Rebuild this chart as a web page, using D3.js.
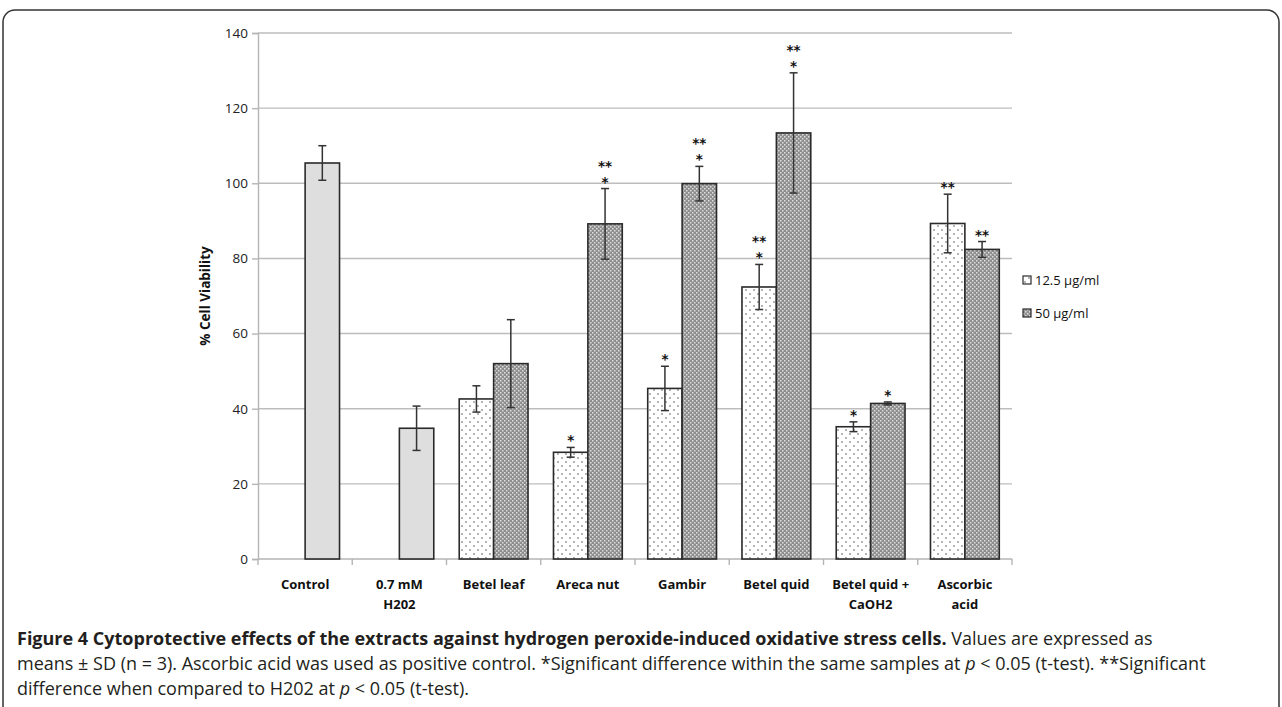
<script src="https://cdn.jsdelivr.net/npm/d3@7"></script>
<style>
  body { margin: 0; background: #fff; }
  text { font-family: "Open Sans", sans-serif; }
</style>
<svg id="main_canvas" width="1282" height="707"></svg>
<script>
    // cell viability per extract, two concentrations (Control / H2O2 only have one bar)
    const categories = [
        ["Control"], ["0.7 mM", "H202"], ["Betel leaf"], ["Areca nut"],
        ["Gambir"], ["Betel quid"], ["Betel quid +", "CaOH2"], ["Ascorbic", "acid"]
    ];
    const seriesNames = ["12.5 µg/ml", "50 µg/ml"];
    const low = [null, null, 42.6, 28.4, 45.4, 72.4, 35.2, 89.3];
    const lowSD = [null, null, 3.5, 1.3, 5.9, 6.0, 1.3, 7.8];
    const high = [105.4, 34.8, 52.0, 89.2, 99.9, 113.4, 41.4, 82.4];
    const highSD = [4.6, 5.9, 11.7, 9.4, 4.6, 16.0, 0.4, 2.1];
    const lowStars = [[], [], [], ["*"], ["*"], ["**", "*"], ["*"], ["**"]];
    const highStars = [[], [], [], ["**", "*"], ["**", "*"], ["**", "*"], ["*"], ["**"]];
    const controlGroups = [0, 1]; // plain grey bars
    const yTicks = [0, 20, 40, 60, 80, 100, 120, 140];

    const margins = { left: 258, right: 270, top: 33, bottom: 148 };
    const W = 1282, H = 707;

    const svg = d3.select("#main_canvas");

    // outer figure frame
    svg.append("rect")
        .attr("x", 3).attr("y", 10)
        .attr("width", W - 6).attr("height", H + 40)
        .attr("rx", 12)
        .attr("fill", "none").attr("stroke", "#333").attr("stroke-width", 1.5);

    const defs = svg.append("defs");
    const dots = defs.append("pattern").attr("id", "dots")
        .attr("patternUnits", "userSpaceOnUse").attr("width", 8).attr("height", 8);
    dots.append("rect").attr("width", 8).attr("height", 8).attr("fill", "#fff");
    dots.append("circle").attr("cx", 2).attr("cy", 2).attr("r", 0.75).attr("fill", "#444");
    dots.append("circle").attr("cx", 6).attr("cy", 6).attr("r", 0.75).attr("fill", "#444");

    const checker = defs.append("pattern").attr("id", "checker")
        .attr("patternUnits", "userSpaceOnUse").attr("width", 4).attr("height", 4);
    checker.append("rect").attr("width", 4).attr("height", 4).attr("fill", "#8e8e8e");
    checker.append("rect").attr("x", 0).attr("y", 0).attr("width", 1.5).attr("height", 1.5).attr("fill", "#dedede");
    checker.append("rect").attr("x", 2).attr("y", 2).attr("width", 1.5).attr("height", 1.5).attr("fill", "#dedede");

    const x = d3.scaleBand()
        .domain(d3.range(categories.length))
        .range([margins.left, W - margins.right])
        .paddingInner(0).paddingOuter(0);

    const inner = d3.scaleBand()
        .domain(seriesNames)
        .range([0, x.bandwidth()])
        .paddingInner(0).paddingOuter(0.37);

    const y = d3.scaleLinear()
        .domain([0, 140])
        .range([H - margins.bottom, margins.top]);

    // gridlines
    svg.append("g")
        .selectAll("line")
        .data(yTicks.slice(1))
        .join("line")
        .attr("x1", margins.left).attr("x2", W - margins.right)
        .attr("y1", d => y(d)).attr("y2", d => y(d))
        .attr("stroke", "#bdbdbd").attr("stroke-width", 1.4);

    // y axis
    svg.append("g")
        .attr("transform", `translate(${margins.left},0)`)
        .call(d3.axisLeft(y).tickValues(yTicks).tickSize(6).tickPadding(4))
        .call(g => g.select(".domain").attr("stroke", "#b5b5b5").attr("stroke-width", 1.4))
        .call(g => g.selectAll(".tick line").attr("stroke", "#b5b5b5").attr("stroke-width", 1.4))
        .call(g => g.selectAll(".tick text")
            .attr("font-size", 13.5).attr("fill", "#222")
            .style("font-family", "'Open Sans', sans-serif"));

    // x axis (ticks at category boundaries)
    const boundaries = d3.range(categories.length + 1).map(i => margins.left + i * x.bandwidth());
    const xAxisG = svg.append("g").attr("transform", `translate(0,${y(0)})`);
    xAxisG.append("line")
        .attr("x1", margins.left).attr("x2", W - margins.right)
        .attr("stroke", "#b5b5b5").attr("stroke-width", 1.4);
    xAxisG.selectAll(".btick")
        .data(boundaries)
        .join("line")
        .attr("class", "btick")
        .attr("x1", d => d).attr("x2", d => d)
        .attr("y1", 0).attr("y2", 6)
        .attr("stroke", "#b5b5b5").attr("stroke-width", 1.4);
    xAxisG.selectAll(".clabel")
        .data(categories)
        .join("text")
        .attr("class", "clabel")
        .attr("text-anchor", "middle")
        .attr("font-size", 13).attr("font-weight", "bold").attr("fill", "#111")
        .attr("transform", (d, i) => `translate(${x(i) + x.bandwidth() / 2},30)`)
        .selectAll("tspan")
        .data(d => d)
        .join("tspan")
        .attr("x", 0)
        .attr("dy", (d, i) => i === 0 ? 0 : 20)
        .text(d => d);

    // y title
    svg.append("text")
        .attr("transform", `translate(210,${(y(0) + y(140)) / 2}) rotate(-90)`)
        .attr("text-anchor", "middle")
        .attr("font-size", 13.5).attr("font-weight", "bold").attr("fill", "#111")
        .text("% Cell Viability");

    // bar records
    const bars = [];
    categories.forEach((c, i) => {
        if (low[i] != null) bars.push({ i, s: 0, v: low[i], sd: lowSD[i], stars: lowStars[i] });
        if (high[i] != null) bars.push({ i, s: 1, v: high[i], sd: highSD[i], stars: highStars[i] });
    });
    const fillFor = d => controlGroups.includes(d.i) ? "#dedede" : (d.s === 0 ? "url(#dots)" : "url(#checker)");
    const bx = d => x(d.i) + inner(seriesNames[d.s]);

    svg.append("g")
        .selectAll("rect")
        .data(bars)
        .join("rect")
        .attr("x", bx)
        .attr("y", d => y(d.v))
        .attr("width", inner.bandwidth())
        .attr("height", d => y(0) - y(d.v))
        .attr("fill", fillFor)
        .attr("stroke", "#2a2a2a").attr("stroke-width", 1.6);

    // error bars
    const err = svg.append("g").attr("stroke", "#333").attr("stroke-width", 1.5);
    const cx = d => bx(d) + inner.bandwidth() / 2;
    err.selectAll(".ev").data(bars).join("line").attr("class", "ev")
        .attr("x1", cx).attr("x2", cx)
        .attr("y1", d => y(d.v + d.sd)).attr("y2", d => y(d.v - d.sd));
    err.selectAll(".et").data(bars).join("line").attr("class", "et")
        .attr("x1", d => cx(d) - 4).attr("x2", d => cx(d) + 4)
        .attr("y1", d => y(d.v + d.sd)).attr("y2", d => y(d.v + d.sd));
    err.selectAll(".eb").data(bars).join("line").attr("class", "eb")
        .attr("x1", d => cx(d) - 4).attr("x2", d => cx(d) + 4)
        .attr("y1", d => y(d.v - d.sd)).attr("y2", d => y(d.v - d.sd));

    // significance stars, one text per line
    const starLines = [];
    bars.forEach(b => b.stars.forEach((s, k) => starLines.push({ b, s, up: b.stars.length - 1 - k })));
    svg.append("g")
        .selectAll("text")
        .data(starLines)
        .join("text")
        .attr("text-anchor", "middle")
        .attr("font-size", 13.5).attr("font-weight", "bold").attr("fill", "#111")
        .style("font-family", "'DejaVu Sans', sans-serif")
        .attr("x", d => cx(d.b))
        .attr("y", d => y(d.b.v + d.b.sd) - 2 - d.up * 16)
        .text(d => d.s);

    // legend
    const legend = svg.append("g").attr("transform", "translate(1023,280)");
    legend.selectAll("g")
        .data(seriesNames)
        .join("g")
        .attr("transform", (d, i) => `translate(0,${i * 33})`)
        .call(g => g.append("rect")
            .attr("x", 0).attr("y", -4).attr("width", 8).attr("height", 8)
            .attr("fill", (d, i) => i === 0 ? "url(#dots)" : "url(#checker)")
            .attr("stroke", "#2a2a2a").attr("stroke-width", 1.2))
        .call(g => g.append("text")
            .attr("x", 12).attr("y", 5)
            .attr("font-size", 13).attr("fill", "#111")
            .text(d => d));

    // caption
    const cap = svg.append("g").attr("fill", "#231f20").attr("font-size", 18);
    const l1 = cap.append("text").attr("x", 17).attr("y", 645);
    l1.append("tspan").attr("font-weight", "bold")
        .text("Figure 4 Cytoprotective effects of the extracts against hydrogen peroxide-induced oxidative stress cells.");
    l1.append("tspan").text(" Values are expressed as");
    const l2 = cap.append("text").attr("x", 17).attr("y", 670);
    l2.append("tspan").text("means ± SD (n = 3). Ascorbic acid was used as positive control. *Significant difference within the same samples at ");
    l2.append("tspan").attr("font-style", "italic").text("p");
    l2.append("tspan").text(" < 0.05 (t-test). **Significant");
    const l3 = cap.append("text").attr("x", 17).attr("y", 695);
    l3.append("tspan").text("difference when compared to H202 at ");
    l3.append("tspan").attr("font-style", "italic").text("p");
    l3.append("tspan").text(" < 0.05 (t-test).");
</script>
